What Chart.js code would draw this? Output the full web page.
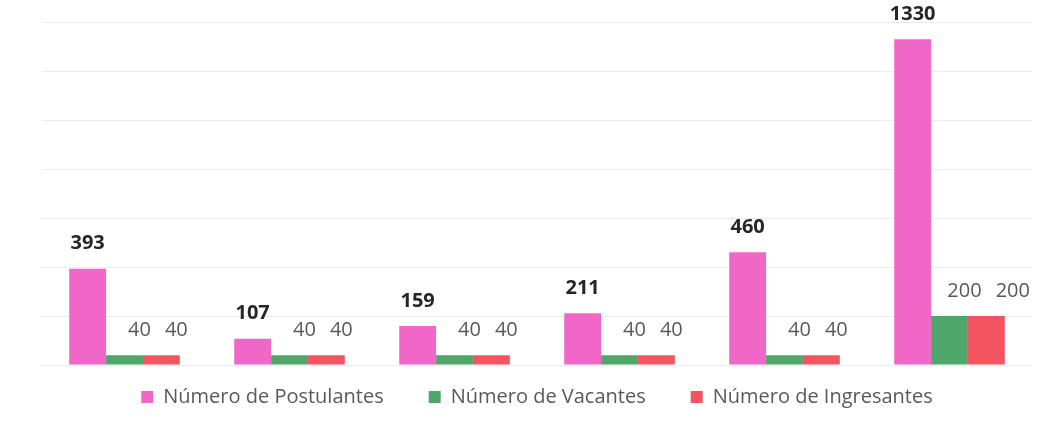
<!DOCTYPE html>
<html>
<head>
<meta charset="utf-8">
<script src="https://cdn.jsdelivr.net/npm/chart.js@4"></script>
<style>
  html, body { margin: 0; padding: 0; background: #fff; }
  #wrap { width: 1055px; height: 435px; position: relative; }
</style>
</head>
<body>
<div id="wrap"><canvas id="grafico"></canvas></div>
<script>
// datos
const categorias = ['G1', 'G2', 'G3', 'G4', 'G5', 'G6'];
const postulantes = [393, 107, 159, 211, 460, 1330];
const vacantes = [40, 40, 40, 40, 40, 200];
const ingresantes = [40, 40, 40, 40, 40, 200];
const nombresSeries = ['Número de Postulantes', 'Número de Vacantes', 'Número de Ingresantes'];

const FUENTE = "'Open Sans', 'DejaVu Sans', sans-serif";

// etiquetas de datos encima de cada barra
const etiquetas = {
  id: 'etiquetas',
  afterDatasetsDraw(chart) {
    const ctx = chart.ctx;
    ctx.save();
    ctx.textAlign = 'center';
    ctx.textBaseline = 'middle';
    const n = chart.data.labels.length;
    for (let i = 0; i < n; i++) {
      let finAnterior = -Infinity;
      chart.data.datasets.forEach((ds, d) => {
        const bar = chart.getDatasetMeta(d).data[i];
        const txt = String(ds.data[i]);
        if (d === 0) {
          ctx.font = 'bold 20px ' + FUENTE;
          ctx.fillStyle = '#262626';
          ctx.fillText(txt, bar.x, bar.y - 25);
        } else {
          ctx.font = '20px ' + FUENTE;
          ctx.fillStyle = '#595959';
          const w = ctx.measureText(txt).width;
          let x = bar.x + 15;
          if (x - w / 2 < finAnterior + 14) x = finAnterior + 14 + w / 2;
          finAnterior = x + w / 2;
          ctx.fillText(txt, x, bar.y - 25);
        }
      });
    }
    ctx.restore();
  }
};

// sube la leyenda hasta su sitio
const moverLeyenda = {
  id: 'moverLeyenda',
  beforeDraw(chart) {
    const lg = chart.legend;
    const alto = lg.bottom - lg.top;
    lg.top = 342;
    lg.bottom = 342 + alto;
  }
};

const ctx = document.getElementById('grafico').getContext('2d');
new Chart(ctx, {
  type: 'bar',
  data: {
    labels: categorias,
    datasets: [
      { label: nombresSeries[0], data: postulantes, backgroundColor: '#F067C8' },
      { label: nombresSeries[1], data: vacantes, backgroundColor: '#4FA66A' },
      { label: nombresSeries[2], data: ingresantes, backgroundColor: '#F4545F' }
    ]
  },
  options: {
    responsive: true,
    maintainAspectRatio: false,
    animation: false,
    layout: { padding: { left: 42, right: 23, top: 22, bottom: 0 } },
    datasets: {
      bar: { categoryPercentage: 0.67, barPercentage: 1.0 }
    },
    scales: {
      x: { display: false },
      y: {
        min: 0,
        max: 1400,
        ticks: { display: false, stepSize: 200 },
        grid: { color: '#ececec', drawTicks: false },
        border: { display: false }
      }
    },
    plugins: {
      tooltip: { enabled: false },
      legend: {
        position: 'bottom',
        maxHeight: 70,
        labels: {
          boxWidth: 12,
          boxHeight: 12,
          padding: 45,
          color: '#595959',
          font: { family: FUENTE, size: 20 }
        }
      }
    }
  },
  plugins: [etiquetas, moverLeyenda]
});
</script>
</body>
</html>
